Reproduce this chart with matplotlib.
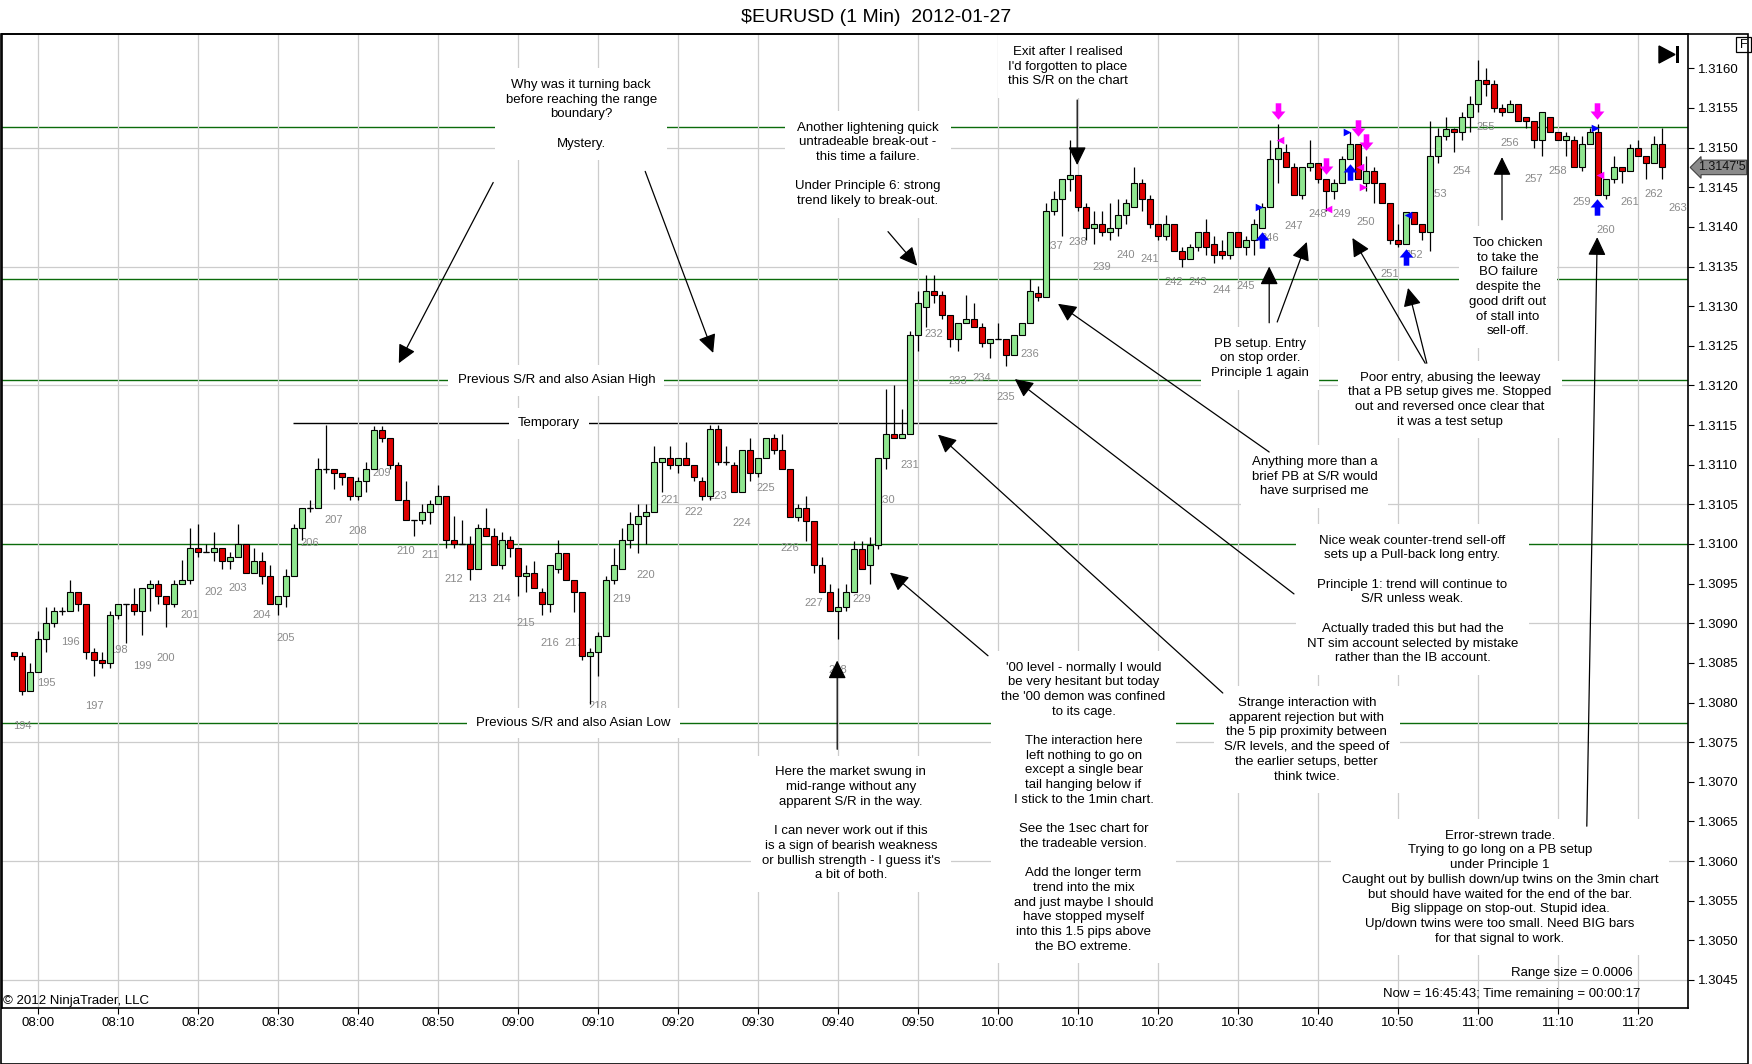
import matplotlib.pyplot as plt
import matplotlib.ticker as mticker
import matplotlib.transforms as mtransforms
import numpy as np
import pandas as pd
from matplotlib.path import Path
from matplotlib.patches import Rectangle, Polygon

plt.rcParams['font.family'] = ['Liberation Sans', 'DejaVu Sans']

# quotes are kept as pips above 1.3000
BASE = 1.3000
PIP = 0.0001

first_bar = "2012-01-27 07:57"

open_pips = [
    86.4, 85.9, 81.4, 83.9, 88.0, 90.0, 91.5, 91.5, 93.9, 92.4,
    86.4, 85.4, 85.0, 91.0, 92.4, 92.4, 91.5, 94.4, 94.9, 93.4,
    92.4, 94.9, 95.4, 99.5, 99.0, 99.0, 99.5, 97.9, 98.4, 100.0,
    96.4, 97.9, 95.9, 92.4, 93.4, 95.9, 102.0, 104.5, 104.5, 109.4,
    109.4, 108.9, 108.4, 106.0, 107.9, 109.4, 114.4, 113.4, 109.9, 105.5,
    103.0, 103.0, 104.0, 105.0, 106.0, 100.5, 100.0, 100.0, 96.9, 102.0,
    101.0, 97.4, 100.5, 99.5, 95.9, 96.4, 93.9, 92.4, 96.9, 98.9,
    95.4, 93.9, 85.9, 86.4, 88.4, 95.4, 96.9, 100.5, 102.5, 103.5,
    104.0, 110.4, 110.9, 109.9, 110.9, 109.9, 107.9, 106.0, 114.5, 110.4,
    109.9, 106.5, 111.9, 108.9, 110.9, 113.4, 111.9, 109.4, 103.4, 104.5,
    102.9, 97.4, 93.9, 91.5, 92.0, 93.9, 99.4, 97.4, 99.9, 110.9,
    113.9, 113.4, 113.9, 126.4, 129.9, 131.9, 131.4, 128.9, 125.9, 127.9,
    128.4, 127.4, 125.4, 125.9, 125.9, 123.9, 126.4, 127.9, 131.6, 131.1,
    142.0, 143.5, 146.0, 146.5, 142.5, 139.9, 140.4, 139.4, 139.9, 141.5,
    142.5, 145.5, 143.5, 140.4, 138.9, 140.4, 136.9, 136.0, 137.4, 139.4,
    137.9, 137.0, 136.5, 139.4, 137.4, 138.4, 139.9, 142.5, 148.5, 149.5,
    147.5, 144.0, 147.5, 148.0, 146.0, 144.5, 145.5, 148.5, 150.5, 145.5,
    147.0, 145.5, 143.0, 138.4, 137.9, 141.9, 140.4, 139.4, 149.0, 151.5,
    152.3, 152.0, 153.9, 155.5, 158.5, 158.0, 155.0, 154.5, 155.5, 153.9,
    153.4, 151.0, 153.9, 152.0, 151.0, 151.0, 147.5, 150.5, 152.0, 144.0,
    146.0, 147.5, 147.0, 149.9, 149.0, 148.0, 150.5,
]
high_pips = [
    86.4, 86.4, 85.0, 89.0, 92.0, 92.0, 92.0, 95.4, 94.0, 92.4,
    86.9, 86.4, 91.5, 92.4, 92.4, 94.4, 94.4, 95.4, 95.4, 93.4,
    95.4, 98.0, 102.0, 102.5, 100.0, 101.5, 99.5, 99.0, 102.5, 100.0,
    99.5, 99.0, 97.4, 93.4, 96.9, 102.5, 104.5, 105.5, 110.9, 115.0,
    109.4, 109.0, 108.4, 108.4, 110.4, 114.9, 114.9, 113.4, 110.4, 108.0,
    103.0, 105.0, 105.5, 107.4, 106.0, 103.5, 103.0, 101.0, 102.5, 104.5,
    102.0, 101.5, 101.0, 99.5, 97.4, 97.9, 94.4, 97.4, 100.5, 98.9,
    95.4, 93.9, 86.9, 88.9, 95.9, 99.5, 102.0, 104.0, 105.0, 105.0,
    112.4, 110.9, 112.4, 110.9, 112.9, 109.9, 108.4, 115.0, 115.0, 112.4,
    110.4, 111.9, 113.4, 110.9, 113.4, 113.9, 113.9, 109.4, 105.0, 106.0,
    102.9, 98.4, 94.9, 94.4, 94.9, 100.4, 100.4, 100.9, 110.9, 119.5,
    120.0, 117.0, 126.9, 131.9, 133.9, 133.9, 131.9, 128.9, 127.9, 131.4,
    130.4, 127.9, 125.9, 127.9, 125.9, 126.4, 127.9, 133.4, 132.6, 143.0,
    144.5, 146.0, 151.0, 146.5, 143.0, 142.0, 142.0, 143.0, 143.5, 143.5,
    147.5, 146.0, 144.0, 140.4, 141.5, 140.4, 137.4, 137.9, 139.4, 141.0,
    138.9, 138.4, 139.4, 139.4, 138.9, 141.0, 143.0, 151.0, 153.0, 150.5,
    148.0, 147.5, 151.0, 148.0, 146.0, 146.0, 149.0, 152.0, 150.5, 149.0,
    147.5, 145.5, 143.0, 140.4, 141.9, 141.9, 140.4, 153.4, 152.5, 153.9,
    152.5, 154.5, 156.5, 161.1, 160.0, 158.5, 155.5, 156.0, 155.5, 153.9,
    153.4, 154.5, 153.9, 152.0, 152.0, 151.5, 151.5, 152.5, 153.0, 146.0,
    149.0, 147.5, 150.5, 151.0, 149.0, 151.5, 152.5,
]
low_pips = [
    85.4, 81.0, 81.4, 83.9, 86.4, 89.5, 91.0, 91.5, 91.5, 85.5,
    83.4, 84.4, 84.4, 90.5, 87.5, 91.0, 88.5, 91.5, 92.4, 89.5,
    92.0, 94.9, 94.9, 98.4, 99.0, 97.9, 96.9, 96.9, 98.4, 96.4,
    96.4, 94.9, 92.4, 91.0, 92.0, 95.9, 100.5, 104.0, 104.5, 108.9,
    106.9, 107.4, 105.5, 105.5, 106.5, 109.4, 112.9, 109.4, 105.5, 103.0,
    101.0, 102.5, 102.5, 105.0, 99.5, 99.5, 100.0, 95.4, 96.9, 101.0,
    97.4, 96.9, 98.4, 93.4, 93.9, 94.4, 91.0, 91.4, 96.4, 95.4,
    91.4, 85.4, 79.8, 83.4, 88.4, 94.9, 96.9, 99.5, 98.9, 100.0,
    104.0, 106.5, 109.4, 108.9, 109.9, 107.9, 105.5, 105.5, 109.9, 109.9,
    106.5, 106.5, 107.9, 108.4, 110.9, 111.4, 109.4, 103.4, 102.9, 100.4,
    96.4, 93.9, 91.5, 88.0, 91.5, 93.9, 96.9, 94.9, 99.4, 109.4,
    113.4, 113.4, 113.9, 124.4, 127.4, 130.4, 128.4, 124.9, 124.4, 127.9,
    127.4, 124.9, 123.4, 125.9, 122.4, 123.9, 126.4, 127.9, 130.6, 131.1,
    141.5, 138.9, 144.5, 142.0, 138.4, 137.9, 138.9, 138.4, 138.9, 140.4,
    142.5, 142.0, 139.9, 138.4, 138.4, 136.9, 135.0, 136.0, 136.9, 136.4,
    135.5, 136.0, 136.0, 137.4, 136.5, 136.5, 139.9, 142.5, 145.5, 147.5,
    144.0, 143.5, 147.0, 145.5, 142.0, 143.5, 145.5, 148.5, 146.0, 144.5,
    143.0, 143.0, 137.9, 137.4, 137.9, 140.4, 138.4, 136.9, 148.0, 151.0,
    149.5, 151.0, 152.0, 154.5, 156.5, 154.5, 154.0, 154.5, 153.4, 152.5,
    149.9, 148.9, 152.0, 151.0, 148.9, 147.5, 147.0, 150.5, 144.0, 143.5,
    145.5, 145.5, 147.0, 149.0, 146.0, 148.0, 146.0,
]
close_pips = [
    85.9, 81.4, 83.9, 88.0, 90.0, 91.5, 91.5, 93.9, 92.4, 86.4,
    85.4, 85.0, 91.0, 92.4, 92.4, 91.5, 94.4, 94.9, 93.4, 92.4,
    94.9, 95.4, 99.5, 99.0, 99.0, 99.5, 97.9, 98.4, 100.0, 96.4,
    97.9, 95.9, 92.4, 93.4, 95.9, 102.0, 104.5, 104.5, 109.4, 109.4,
    108.9, 108.4, 106.0, 107.9, 109.4, 114.4, 113.4, 109.9, 105.5, 103.0,
    103.0, 104.0, 105.0, 106.0, 100.5, 100.0, 100.0, 96.9, 102.0, 101.0,
    97.4, 100.5, 99.5, 95.9, 96.4, 94.4, 92.4, 97.4, 98.9, 95.4,
    93.9, 85.9, 86.4, 88.4, 95.4, 97.4, 100.5, 102.5, 103.5, 104.0,
    110.4, 110.9, 109.9, 110.9, 109.9, 108.4, 106.0, 114.5, 110.4, 110.4,
    106.5, 111.9, 108.9, 110.9, 113.4, 111.9, 109.4, 103.4, 104.5, 102.9,
    97.4, 93.9, 91.5, 92.0, 93.9, 99.4, 96.9, 99.9, 110.9, 113.9,
    113.4, 113.9, 126.4, 130.4, 131.9, 131.4, 128.9, 125.9, 127.9, 128.4,
    127.4, 125.4, 125.9, 125.9, 123.9, 126.4, 127.9, 131.9, 131.1, 142.0,
    143.5, 146.0, 146.5, 142.5, 139.9, 140.4, 139.4, 139.9, 141.5, 143.0,
    145.5, 143.5, 140.4, 138.9, 140.4, 136.9, 136.0, 137.4, 139.4, 137.4,
    136.5, 136.5, 139.4, 137.4, 138.4, 140.4, 142.5, 148.5, 150.0, 147.5,
    144.0, 147.5, 148.0, 146.0, 144.5, 145.5, 148.5, 150.5, 146.0, 147.0,
    145.5, 143.0, 138.4, 137.9, 141.9, 140.4, 139.4, 149.0, 151.5, 152.3,
    152.0, 153.9, 155.5, 158.5, 158.0, 155.0, 154.5, 155.5, 153.4, 153.4,
    151.0, 154.5, 152.0, 151.0, 151.5, 147.5, 150.5, 152.0, 144.0, 146.0,
    147.5, 147.0, 149.9, 149.0, 148.0, 150.5, 147.5,
]

# S/R levels drawn across the whole chart (pips above 1.3000)
sr_levels = [152.6, 133.4, 120.65, 100.0, 77.4]
temporary_level = 115.2
temporary_span = (31.9, 119.9)  # minutes after 08:00

# 3-minute bar counter printed under the 1-minute bars
count_first, count_last = 194, 263
count_forming_y = 142.4

# trade markers: (minutes after 08:00, pips)
sell_arrows = [(155.0, 154.6), (161.0, 147.7), (165.0, 152.5), (166.0, 150.7), (194.9, 154.6)]
buy_arrows = [(153.0, 138.3), (164.0, 146.9), (171.0, 136.2), (194.9, 142.5)]
blue_right = [(152.6, 142.5), (163.6, 152.0), (194.6, 152.5)]
blue_left = [(171.3, 141.5)]
pink_left = [(155.3, 151.0), (161.3, 142.2), (165.3, 147.5), (195.3, 146.5)]
pink_right = [(165.6, 145.0)]

why_text = "Why was it turning back\nbefore reaching the range\nboundary?\n\nMystery."
exit_text = "Exit after I realised\nI'd forgotten to place\nthis S/R on the chart"
another_text = ("Another lightening quick\nuntradeable break-out -\nthis time a failure.\n\n"
                "Under Principle 6: strong\ntrend likely to break-out.")
market_text = ("Here the market swung in\nmid-range without any\napparent S/R in the way.\n\n"
               "I can never work out if this\nis a sign of bearish weakness\n"
               "or bullish strength - I guess it's\na bit of both.")
level00_text = ("'00 level - normally I would\nbe very hesitant but today\nthe '00 demon was confined\n"
                "to its cage.\n\nThe interaction here\nleft nothing to go on\nexcept a single bear\n"
                "tail hanging below if\nI stick to the 1min chart.\n\nSee the 1sec chart for\n"
                "the tradeable version.\n\nAdd the longer term\ntrend into the mix\n"
                "and just maybe I should\nhave stopped myself\ninto this 1.5 pips above\nthe BO extreme.")
strange_text = ("Strange interaction with\napparent rejection but with\nthe 5 pip proximity between\n"
                "S/R levels, and the speed of\nthe earlier setups, better\nthink twice.")
nice_text = ("Nice weak counter-trend sell-off\nsets up a Pull-back long entry.\n\n"
             "Principle 1: trend will continue to\nS/R unless weak.\n\n"
             "Actually traded this but had the\nNT sim account selected by mistake\n"
             "rather than the IB account.")
anything_text = "Anything more than a\nbrief PB at S/R would\nhave surprised me"
pb_text = "PB setup. Entry\non stop order.\nPrinciple 1 again"
poor_text = ("Poor entry, abusing the leeway\nthat a PB setup gives me. Stopped\n"
             "out and reversed once clear that\nit was a test setup")
chicken_text = "Too chicken\nto take the\nBO failure\ndespite the\ngood drift out\nof stall into\nsell-off."
error_text = ("Error-strewn trade.\nTrying to go long on a PB setup\nunder Principle 1\n"
              "Caught out by bullish down/up twins on the 3min chart\n"
              "but should have waited for the end of the bar.\n"
              "Big slippage on stop-out. Stupid idea.\n"
              "Up/down twins were too small. Need BIG bars\nfor that signal to work.")

notes = [
    (why_text, 67.9, 154.2),
    (exit_text, 128.75, 160.2),
    (another_text, 103.75, 147.9),
    (market_text, 101.6, 64.7),
    (level00_text, 130.7, 66.8),
    (strange_text, 158.6, 75.3),
    (nice_text, 171.8, 93.0),
    (anything_text, 159.6, 108.5),
    (pb_text, 152.75, 123.4),
    (poor_text, 176.5, 118.2),
    (chicken_text, 183.75, 132.4),
    (error_text, 182.75, 56.7),
]

# (tail minute, tail pips, head minute, head pips)
arrows = [
    (56.9, 145.6, 45.1, 122.8),
    (75.9, 147.0, 84.4, 124.1),
    (129.9, 156.0, 129.9, 147.8),
    (106.25, 139.4, 109.9, 135.1),
    (99.9, 74.1, 99.9, 85.3),
    (118.75, 85.9, 106.5, 96.4),
    (148.1, 81.2, 112.5, 113.8),
    (157.0, 93.7, 122.1, 120.8),
    (153.9, 111.6, 127.5, 130.3),
    (153.9, 127.9, 153.9, 135.0),
    (154.9, 128.0, 158.6, 138.1),
    (173.4, 122.8, 164.3, 138.6),
    (173.6, 122.8, 171.25, 132.3),
    (183.0, 140.9, 183.0, 148.8),
    (193.6, 64.4, 194.9, 138.7),
]

level_labels = [
    ("Previous S/R and also Asian High", 64.8, 120.65),
    ("Previous S/R and also Asian Low", 66.9, 77.4),
    ("Temporary", 63.9, 115.2),
]


def q(p):
    return BASE + np.asarray(p) * PIP


o, h, l, c = q(open_pips), q(high_pips), q(low_pips), q(close_pips)
times = pd.date_range(first_bar, periods=len(open_pips), freq="1min")
x = ((times - pd.Timestamp("2012-01-27 08:00")) / pd.Timedelta(minutes=1)).to_numpy()

GREEN = '#8fe68f'
RED = '#e00000'
SR = '#0b6b0b'

W, H = 1752, 1064
fig = plt.figure(figsize=(W / 100, H / 100), dpi=100)
ax = fig.add_axes([2 / W, 1 - 1008.3 / H, 1686 / W, 974.3 / H])
ax.set_xlim(-4.5, 206.25)
ax.set_ylim(q(41.43), q(164.33))

# grid
ax.xaxis.set_major_locator(mticker.MultipleLocator(10))
ax.xaxis.set_major_formatter(mticker.FuncFormatter(
    lambda v, pos: f"{(480 + int(round(v))) // 60:02d}:{(480 + int(round(v))) % 60:02d}"))
ax.grid(axis='x', color='#cccccc', lw=0.9, zorder=0)
for g in np.arange(1.3045, 1.3160, 0.0015):
    ax.axhline(g, color='#cccccc', lw=0.9, zorder=0)

ax.yaxis.tick_right()
ax.yaxis.set_major_locator(mticker.MultipleLocator(0.0005))
ax.yaxis.set_major_formatter(mticker.FormatStrFormatter('%.4f'))
ax.tick_params(axis='both', labelsize=9.5, length=4, width=0.8, color='black', pad=3)
ax.tick_params(axis='x', pad=2.5)
for s in ax.spines.values():
    s.set_linewidth(1.2)

# S/R lines
for lev in sr_levels:
    ax.axhline(q(lev), color=SR, lw=1.0, zorder=1)
ax.hlines(q(temporary_level), *temporary_span, color='black', lw=1.0, zorder=1)
for txt, tx, ty in level_labels:
    ax.text(tx, q(ty), txt, ha='center', va='center', fontsize=9.5, zorder=5,
            bbox=dict(boxstyle='square,pad=0.7', fc='white', ec='none'))

# candles
up = np.array(close_pips) > np.array(open_pips)
doji = np.array(close_pips) == np.array(open_pips)
ax.vlines(x, l, h, color='black', lw=0.9, zorder=3)
ax.bar(x, np.abs(c - o), bottom=np.minimum(o, c), width=0.75,
       color=np.where(up, GREEN, RED), edgecolor='black', linewidth=0.8, zorder=4)
ax.hlines(o[doji], x[doji] - 0.375, x[doji] + 0.375, color='black', lw=0.9, zorder=4)

# 3-minute bar counter
for k, n in enumerate(range(count_first, count_last + 1)):
    i = 1 + 3 * k
    if i < len(x):
        xl, yl = x[i], l[i] - 3.9 * PIP
    else:
        xl, yl = x[-1] + (i - len(x) + 1), q(count_forming_y)
    ax.text(xl, yl, str(n), ha='center', va='center', fontsize=8, color='#8a8a8a', zorder=2)

# trade markers
down_path = Path([(-0.17, 0.5), (0.17, 0.5), (0.17, 0.0), (0.42, 0.0), (0.0, -0.5),
                  (-0.42, 0.0), (-0.17, 0.0), (-0.17, 0.5)],
                 [Path.MOVETO] + [Path.LINETO] * 6 + [Path.CLOSEPOLY])
up_path = Path(down_path.vertices * [1, -1], down_path.codes)
for pts, mk, col, size in [(sell_arrows, down_path, '#ff00ff', 140),
                            (buy_arrows, up_path, '#0000ff', 140),
                            (blue_right, '>', '#0000ff', 30),
                            (blue_left, '<', '#0000ff', 30),
                            (pink_left, '<', '#ff00ff', 30),
                            (pink_right, '>', '#ff00ff', 30)]:
    px, py = zip(*pts)
    ax.scatter(px, q(py), marker=mk, s=size, c=col, linewidths=0, zorder=6)

# notes and arrows
for txt, tx, ty in notes:
    ax.text(tx, q(ty), txt, ha='center', va='center', multialignment='center',
            fontsize=9.5, linespacing=1.3, zorder=5,
            bbox=dict(boxstyle='square,pad=0.8', fc='white', ec='none'))
for x0, y0, x1, y1 in arrows:
    ax.annotate('', xy=(x1, q(y1)), xytext=(x0, q(y0)), zorder=7,
                arrowprops=dict(arrowstyle='-|>,head_length=0.45,head_width=0.22',
                                mutation_scale=25, lw=0.9, color='black',
                                shrinkA=0, shrinkB=0))

# corner texts
ax.text(0.967, 0.036, "Range size = 0.0006", transform=ax.transAxes,
        ha='right', va='center', fontsize=9.5, zorder=5)
ax.text(0.9715, 0.0147, "Now = 16:45:43; Time remaining = 00:00:17", transform=ax.transAxes,
        ha='right', va='center', fontsize=9.5, zorder=5)
ax.text(0.0008, 0.0075, "\u00a9 2012 NinjaTrader, LLC", transform=ax.transAxes,
        ha='left', va='center', fontsize=9.5, zorder=5)

# last price tag
last = f"{c[-1]:.5f}"
tag = last[:-1] + "'" + last[-1]
trans = mtransforms.blended_transform_factory(ax.transAxes, ax.transData)
ax.text(1.0058, c[-1], tag, transform=trans, ha='left', va='center', fontsize=9,
        color='#111111', clip_on=False, zorder=8,
        bbox=dict(boxstyle='larrow,pad=0.1', fc='#8a8a8a', ec='#404040', lw=0.8))

# title, outer frame and toolbar glyphs
fig.text(0.5, 1 - 17 / H, "$EURUSD (1 Min)  2012-01-27", ha='center', va='center', fontsize=14)
fig.add_artist(Rectangle((1 / W, 0.5 / H), 1747 / W, (H - 34.5) / H, transform=fig.transFigure,
                         fill=False, ec='black', lw=1.2))
fig.add_artist(Polygon([(1659 / W, 1 - 46 / H), (1659 / W, 1 - 63 / H), (1675 / W, 1 - 54.5 / H)],
                       closed=True, transform=fig.transFigure, fc='black', ec='black'))
fig.add_artist(Rectangle((1676 / W, 1 - 63 / H), 3 / W, 17 / H, transform=fig.transFigure,
                         fc='black', ec='none'))
fig.add_artist(Rectangle((1736 / W, 1 - 52 / H), 15 / W, 15 / H, transform=fig.transFigure,
                         fill=False, ec='black', lw=0.9))
fig.text(1743.5 / W, 1 - 44.5 / H, "F", ha='center', va='center', fontsize=9)

fig.savefig('out.png', dpi=100)
